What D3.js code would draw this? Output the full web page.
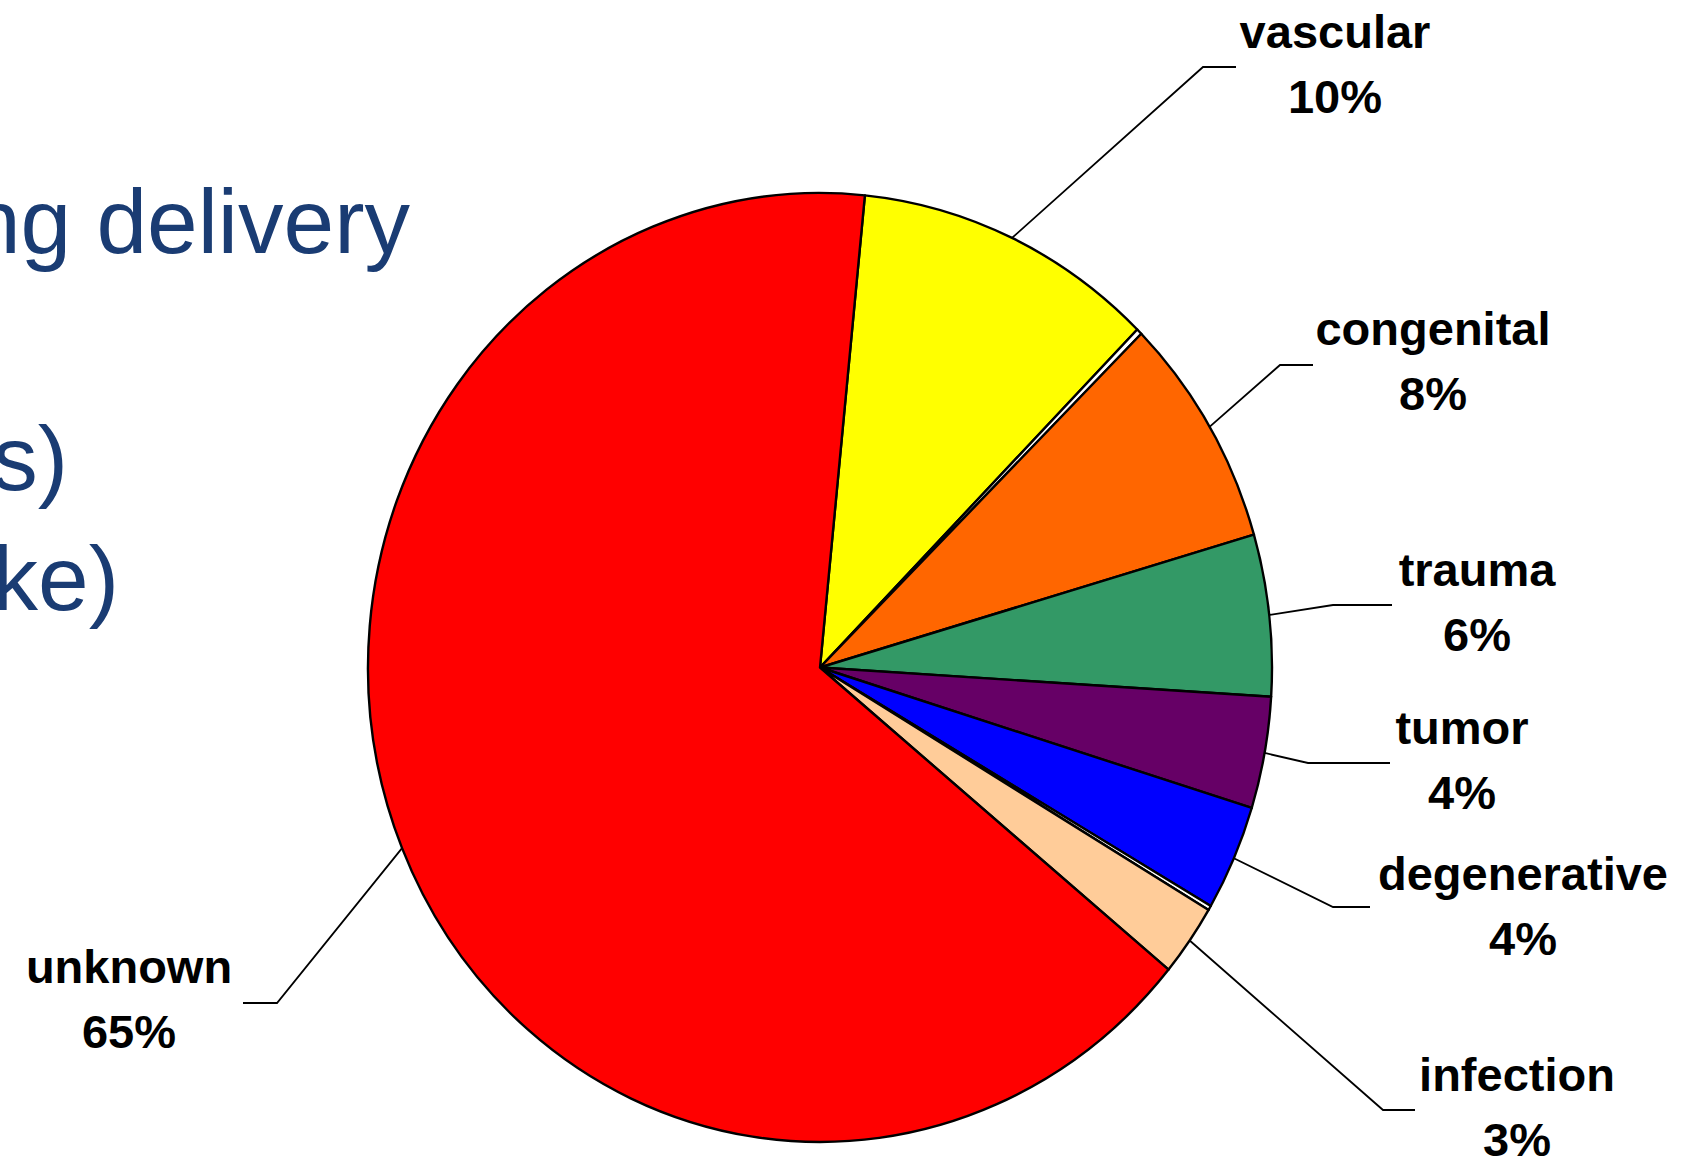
<!DOCTYPE html>
<html>
<head>
<meta charset="utf-8">
<script src="https://cdn.jsdelivr.net/npm/d3@7"></script>
<style>
  body { margin: 0; background: #fff; overflow: hidden; }
</style>
</head>
<body>
<div class="chart"></div>
<script>
// Data (clockwise from the top, the two blank entries are the hairline gaps)
const causes = ["vascular", "gap1", "congenital", "trauma", "tumor", "degenerative", "gap2", "infection", "unknown"];
const shares = [10.8, 0.2, 7.9, 5.5, 3.8, 3.6, 0.15, 2.45, 65.6];
const shareLabels = ["10%", "", "8%", "6%", "4%", "4%", "", "3%", "65%"];
const sliceColors = ["#ffff00", "#ffffff", "#ff6600", "#339966", "#660066", "#0000ff", "#ffffff", "#ffcc99", "#ff0000"];

// slide text cut off at the left edge
const slideLines = ["Problems during delivery", "Infections (meningitis)", "Vascular (stroke)"];

// Layout
const width = 1685, height = 1157;
const cx = 820, cy = 667.5, rx = 452, ry = 474.5;
const startDeg = 5.7;

// where each label sits and how its leader bends (text centre, first baseline, elbow, end)
const labelLayout = {
  vascular:     {x: 1335, y: 48,   elbow: [1203, 67],   end: 1236},
  congenital:   {x: 1433, y: 345,  elbow: [1280, 365],  end: 1313},
  trauma:       {x: 1477, y: 586,  elbow: [1333, 605],  end: 1392},
  tumor:        {x: 1462, y: 744,  elbow: [1308, 763],  end: 1390},
  degenerative: {x: 1523, y: 890,  elbow: [1333, 907],  end: 1370},
  infection:    {x: 1517, y: 1091, elbow: [1383, 1110], end: 1415},
  unknown:      {x: 129,  y: 983,  elbow: [277, 1003],  end: 243}
};

const svg = d3.select(".chart").append("svg")
    .attr("width", width)
    .attr("height", height);

// left slide text
svg.append("g")
  .selectAll("text")
  .data(slideLines)
  .join("text")
    .attr("x", (d, i) => [410, 68, 119][i])
    .attr("y", (d, i) => [253, 490, 610][i])
    .attr("text-anchor", "end")
    .attr("font-family", "'Liberation Sans', Arial, sans-serif")
    .attr("font-size", 91)
    .attr("fill", "#1a3c73")
    .text(d => d);

const data = causes.map((c, i) => ({cause: c, value: shares[i], label: shareLabels[i], color: sliceColors[i]}));

const start = startDeg * Math.PI / 180;
const pie = d3.pie()
    .sort(null)
    .value(d => d.value)
    .startAngle(start)
    .endAngle(start + 2 * Math.PI);

const R = 100;
const arc = d3.arc().innerRadius(0).outerRadius(R);
const arcs = pie(data);

// the pie is slightly taller than wide, so draw it on a unit circle and stretch
svg.append("g")
    .attr("transform", `translate(${cx},${cy}) scale(${rx / R},${ry / R})`)
  .selectAll("path")
  .data(arcs)
  .join("path")
    .attr("d", arc)
    .attr("fill", d => d.data.color)
    .attr("stroke", "#000")
    .attr("stroke-width", 2.4)
    .attr("stroke-linejoin", "round")
    .attr("vector-effect", "non-scaling-stroke");

// leader lines
const labelled = arcs.filter(d => labelLayout[d.data.cause]);
const edgePoint = d => {
  const a = (d.startAngle + d.endAngle) / 2;
  return [cx + rx * Math.sin(a), cy - ry * Math.cos(a)];
};

svg.append("g")
  .selectAll("path")
  .data(labelled)
  .join("path")
    .attr("fill", "none")
    .attr("stroke", "#000")
    .attr("stroke-width", 1.8)
    .attr("d", d => {
      const L = labelLayout[d.data.cause];
      return d3.line()([edgePoint(d), L.elbow, [L.end, L.elbow[1]]]);
    });

// labels
const labels = svg.append("g")
    .attr("font-family", "'Liberation Sans', Arial, sans-serif")
    .attr("font-weight", "bold")
    .attr("font-size", 47)
    .attr("text-anchor", "middle")
    .attr("fill", "#000");

labels.selectAll(".name")
  .data(labelled)
  .join("text")
    .attr("class", "name")
    .attr("x", d => labelLayout[d.data.cause].x)
    .attr("y", d => labelLayout[d.data.cause].y)
    .text(d => d.data.cause);

labels.selectAll(".pct")
  .data(labelled)
  .join("text")
    .attr("class", "pct")
    .attr("x", d => labelLayout[d.data.cause].x)
    .attr("y", d => labelLayout[d.data.cause].y + 65)
    .text(d => d.data.label);
</script>
</body>
</html>
